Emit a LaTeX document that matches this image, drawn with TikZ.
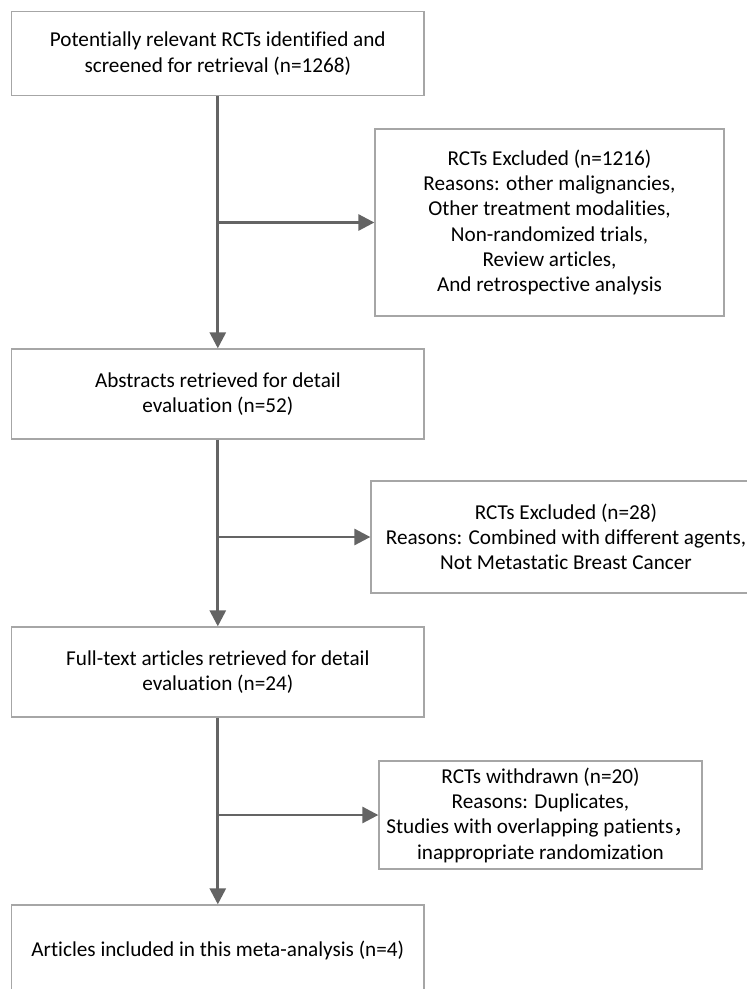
\documentclass[tikz,border=0pt]{standalone}
\usepackage{fontspec}
\setmainfont{Carlito}[Ligatures=NoCommon]
\newfontfamily\cjkfont{Noto Sans CJK SC}
\usetikzlibrary{arrows.meta}
\definecolor{boxgray}{HTML}{A6A6A6}
\definecolor{flowgray}{HTML}{646464}
\begin{document}
\begin{tikzpicture}[x=1pt, y=-1pt,
		stage/.style={draw=boxgray, line width=1.3pt, align=center, inner sep=0pt,
			font=\fontsize{21.2}{25.3}\selectfont},
		flow/.style={draw=flowgray, line width=2.8pt, -{Triangle[length=16pt, width=16pt]}}]
		\useasboundingbox (0, 0) rectangle (747, 989);
		\coordinate (A) at (217.8, 53.7);
		\coordinate (B) at (549.5, 222.5);
		\coordinate (C) at (217.8, 394);
		\coordinate (D) at (566, 537);
		\coordinate (E) at (217.8, 672);
		\coordinate (F) at (540.5, 815);
		\coordinate (G) at (217.8, 950);
		
		\node[stage, minimum width=412.5pt, minimum height=84pt] (potential) at (A)
			{Potentially relevant RCTs identified and\\screened for retrieval (n=1268)};
		\node[stage, minimum width=349pt, minimum height=187pt] (excluded) at (B)
			{RCTs Excluded (n=1216)\\Reasons: other malignancies,\\Other treatment modalities,\\Non-randomized trials,\\Review articles,\\And retrospective analysis};
		\node[stage, minimum width=412.5pt, minimum height=90pt] (abstracts) at (C)
			{Abstracts retrieved for detail\\evaluation (n=52)};
		\node[stage, minimum width=390pt, minimum height=112pt] (agents) at (D)
			{RCTs Excluded (n=28)\\Reasons: Combined with different agents,\\Not Metastatic Breast Cancer};
		\node[stage, minimum width=412.5pt, minimum height=90pt] (fulltext) at (E)
			{Full-text articles retrieved for detail\\evaluation (n=24)};
		\node[stage, minimum width=323pt, minimum height=108pt] (withdrawn) at (F)
			{RCTs withdrawn (n=20)\\Reasons: Duplicates,\\Studies with overlapping patients{\cjkfont ，}\\inappropriate randomization};
		\node[stage, minimum width=412.5pt, minimum height=90pt] (included) at (G)
			{Articles included in this meta-analysis (n=4)};
		
		\coordinate (b1) at (potential.south |- excluded.west);
		\coordinate (b2) at (abstracts.south |- agents.west);
		\coordinate (b3) at (fulltext.south |- withdrawn.west);
		\draw[flow] (potential.south) -- (abstracts.north);
		\draw[flow] (b1) -- (excluded.west);
		\draw[flow] (abstracts.south) -- (fulltext.north);
		\draw[flow] (b2) -- (agents.west);
		\draw[flow] (fulltext.south) -- (included.north);
		\draw[flow] (b3) -- (withdrawn.west);
	\end{tikzpicture}
\end{document}
